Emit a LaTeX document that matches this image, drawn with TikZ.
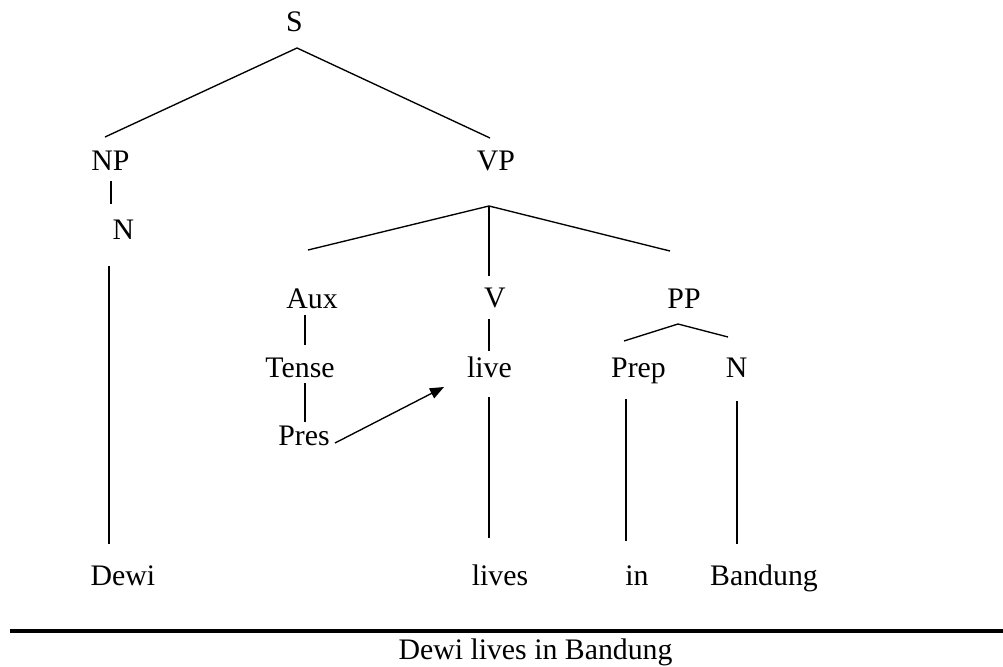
\documentclass[tikz,border=0pt]{standalone}
\usepackage{fontspec}
\setmainfont{Liberation Serif}
\usetikzlibrary{arrows.meta}
\begin{document}
\begin{tikzpicture}[x=1pt,y=-1pt,
  lbl/.style={anchor=base,inner sep=0pt,font=\fontsize{29.8}{34}\selectfont},
  branch/.style={line width=1.35pt},
  movearrow/.style={line width=1.35pt,-{Triangle[length=14pt,width=11pt]}},
  rule/.style={line width=4.3pt}]
\useasboundingbox (0,0) rectangle (1003,666);

% category labels
\node[lbl] (S)     at (294.5,32)  {S};
\node[lbl] (NP)    at (110.5,170) {NP};
\node[lbl] (VP)    at (496,170)   {VP};
\node[lbl] (N1)    at (123.5,239) {N};
\node[lbl] (Aux)   at (312,308)   {Aux};
\node[lbl] (V)     at (495,307)   {V};
\node[lbl] (PP)    at (684,308)   {PP};
\node[lbl] (Tense) at (300,377)   {Tense};
\node[lbl] (live)  at (489.5,377) {live};
\node[lbl] (Prep)  at (638.5,377) {Prep};
\node[lbl] (N2)    at (736.5,377) {N};
\node[lbl] (Pres)  at (304,445)   {Pres};

% terminal words
\node[lbl] (Dewi)    at (123,585) {Dewi};
\node[lbl] (lives)   at (500,585) {lives};
\node[lbl] (in)      at (637,585) {in};
\node[lbl] (Bandung) at (764,585) {Bandung};

% sentence under the rule
\node[lbl] (sent) at (535.5,659) {Dewi lives in Bandung};

% branching points
\coordinate (S-fork)  at ([xshift=2.5pt,yshift=-16pt]S.base);
\coordinate (VP-fork) at ([xshift=-7pt,yshift=-36pt]VP.base);
\coordinate (PP-fork) at ([xshift=-6pt,yshift=-16pt]PP.base);

% S
\draw[branch] ([xshift=-5.5pt,yshift=33pt]NP.base) -- (S-fork) -- ([xshift=-6pt,yshift=32pt]VP.base);
% NP
\draw[branch] ([xshift=0.5pt,yshift=-11pt]NP.base) -- ([xshift=-12.5pt,yshift=35pt]N1.base);
\draw[branch] ([xshift=-14.5pt,yshift=-27pt]N1.base) -- ([xshift=-14pt,yshift=41pt]Dewi.base);
% VP
\draw[branch] ([xshift=-4pt,yshift=58pt]Aux.base) -- (VP-fork) -- ([xshift=-14pt,yshift=57pt]PP.base);
\draw[branch] (VP-fork) -- ([xshift=-6pt,yshift=31pt]V.base);
% Aux
\draw[branch] ([xshift=-7pt,yshift=-7pt]Aux.base) -- ([xshift=5pt,yshift=32pt]Tense.base);
\draw[branch] ([xshift=5pt,yshift=-6pt]Tense.base) -- ([xshift=1pt,yshift=23pt]Pres.base);
% V
\draw[branch] ([xshift=-6pt,yshift=-12pt]V.base) -- ([xshift=-0.5pt,yshift=26pt]live.base);
\draw[branch] ([xshift=-0.5pt,yshift=-20pt]live.base) -- ([xshift=-11pt,yshift=47pt]lives.base);
% PP
\draw[branch] ([xshift=-14.5pt,yshift=36pt]Prep.base) -- (PP-fork) -- ([xshift=-8.5pt,yshift=40pt]N2.base);
\draw[branch] ([xshift=-12.5pt,yshift=-22pt]Prep.base) -- ([xshift=-11pt,yshift=44pt]in.base);
\draw[branch] ([xshift=0.5pt,yshift=-24pt]N2.base) -- ([xshift=-27pt,yshift=41pt]Bandung.base);

% affix hopping
\draw[movearrow] ([xshift=31pt,yshift=2pt]Pres.base) -- ([xshift=-45.5pt,yshift=-10pt]live.base);

% rule above the sentence
\draw[rule] (10,631) -- (1003,631);
\end{tikzpicture}
\end{document}
